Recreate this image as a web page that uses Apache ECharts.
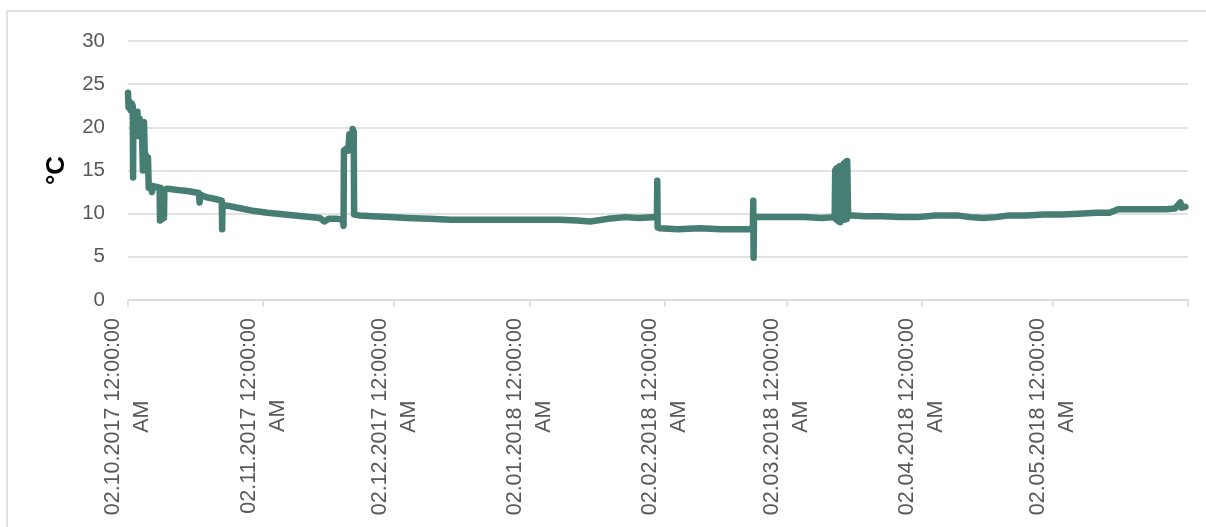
<!DOCTYPE html>
<html>
<head>
<meta charset="utf-8">
<title>Temperatur</title>
<script src="https://cdn.jsdelivr.net/npm/echarts@6/dist/echarts.min.js"></script>
<style>
  html, body { margin: 0; padding: 0; background: #ffffff; }
  #chart { width: 1206px; height: 527px; }
</style>
</head>
<body>
<div id="chart"></div>
<script>
// Logged temperature readings (local time, °C)
const times = [
  '2017-10-02 00:00','2017-10-02 03:00','2017-10-02 08:00','2017-10-02 14:00','2017-10-02 20:00',
  '2017-10-03 02:00','2017-10-03 04:00','2017-10-03 06:00','2017-10-03 14:00','2017-10-03 22:00',
  '2017-10-04 04:00','2017-10-04 10:00','2017-10-04 16:00','2017-10-04 22:00',
  '2017-10-05 04:00','2017-10-05 10:00','2017-10-05 16:00','2017-10-05 22:00',
  '2017-10-06 02:00','2017-10-06 08:00','2017-10-06 14:00','2017-10-06 18:00',
  '2017-10-07 06:00','2017-10-07 12:00','2017-10-07 18:00','2017-10-08 12:00',
  '2017-10-09 06:00','2017-10-09 08:00','2017-10-09 10:00','2017-10-09 20:00','2017-10-09 22:00',
  '2017-10-10 06:00','2017-10-10 08:00','2017-10-11 00:00','2017-10-12 12:00','2017-10-14 00:00',
  '2017-10-16 00:00','2017-10-18 06:00','2017-10-18 10:00','2017-10-18 14:00','2017-10-20 00:00',
  '2017-10-22 00:00','2017-10-23 12:00','2017-10-23 14:00','2017-10-23 16:00','2017-10-25 00:00',
  '2017-10-28 00:00','2017-10-31 00:00','2017-11-03 00:00','2017-11-07 00:00','2017-11-11 00:00',
  '2017-11-15 00:00','2017-11-16 00:00','2017-11-17 00:00','2017-11-19 00:00',
  '2017-11-20 06:00','2017-11-20 10:00','2017-11-20 12:00','2017-11-21 00:00','2017-11-21 12:00',
  '2017-11-21 18:00','2017-11-22 06:00','2017-11-22 12:00','2017-11-22 18:00','2017-11-22 20:00',
  '2017-11-24 00:00','2017-11-27 00:00','2017-12-01 00:00','2017-12-05 00:00','2017-12-10 00:00',
  '2017-12-15 00:00','2017-12-20 00:00','2017-12-25 00:00','2017-12-30 00:00','2018-01-04 00:00',
  '2018-01-09 00:00','2018-01-13 00:00','2018-01-16 00:00','2018-01-20 00:00','2018-01-24 00:00',
  '2018-01-27 00:00','2018-01-31 06:00','2018-01-31 08:00','2018-01-31 10:00','2018-02-01 00:00',
  '2018-02-05 00:00','2018-02-10 00:00','2018-02-15 00:00','2018-02-20 00:00',
  '2018-02-22 06:00','2018-02-22 08:00','2018-02-22 10:00','2018-02-22 12:00','2018-02-26 00:00',
  '2018-03-02 00:00','2018-03-06 00:00','2018-03-10 00:00',
  '2018-03-13 00:00','2018-03-13 03:00','2018-03-13 06:00','2018-03-13 09:00','2018-03-13 12:00',
  '2018-03-13 15:00','2018-03-13 18:00','2018-03-13 21:00','2018-03-14 00:00','2018-03-14 03:00',
  '2018-03-14 06:00','2018-03-14 09:00','2018-03-14 12:00','2018-03-14 15:00','2018-03-14 18:00',
  '2018-03-14 21:00','2018-03-15 00:00','2018-03-15 03:00','2018-03-15 06:00','2018-03-15 09:00',
  '2018-03-15 12:00','2018-03-15 15:00','2018-03-15 18:00','2018-03-15 21:00','2018-03-16 02:00',
  '2018-03-17 00:00','2018-03-20 00:00',
  '2018-03-24 00:00','2018-03-28 00:00','2018-04-01 00:00','2018-04-05 00:00','2018-04-10 00:00',
  '2018-04-13 00:00','2018-04-16 00:00','2018-04-19 00:00','2018-04-22 00:00','2018-04-26 00:00',
  '2018-04-30 00:00','2018-05-04 00:00','2018-05-08 00:00','2018-05-12 00:00','2018-05-15 00:00',
  '2018-05-17 00:00','2018-05-20 00:00','2018-05-24 00:00','2018-05-28 00:00','2018-05-30 00:00',
  '2018-05-31 06:00','2018-05-31 12:00','2018-06-01 10:00'
];
const temps = [
  24.0, 22.3, 23.0, 22.0, 22.8,
  22.5, 14.2, 22.0, 21.5, 19.5,
  21.8, 19.0, 21.0, 18.9,
  20.5, 15.0, 20.6, 15.2,
  16.8, 15.0, 16.5, 13.0,
  13.2, 12.5, 13.2, 13.1,
  13.0, 9.2, 13.0, 9.4, 12.8,
  9.5, 12.7, 12.9, 12.8, 12.7,
  12.6, 12.4, 11.3, 12.2, 11.9,
  11.7, 11.5, 8.2, 11.0, 10.9,
  10.6, 10.3, 10.1, 9.9, 9.7,
  9.5, 9.1, 9.4, 9.4,
  9.3, 8.6, 17.3, 17.5, 17.3,
  19.2, 18.2, 19.8, 19.5, 9.9,
  9.8, 9.7, 9.6, 9.5, 9.4,
  9.3, 9.3, 9.3, 9.3, 9.3,
  9.3, 9.2, 9.1, 9.4, 9.6,
  9.5, 9.6, 13.8, 8.4, 8.3,
  8.2, 8.3, 8.2, 8.2,
  8.2, 11.5, 4.9, 9.6, 9.6,
  9.6, 9.6, 9.5,
  9.6, 15.0, 9.4, 15.2, 9.3,
  15.3, 9.2, 14.9, 9.1, 15.5,
  9.0, 15.4, 9.2, 15.3, 9.3,
  15.6, 9.4, 15.8, 9.3, 15.7,
  9.5, 16.0, 9.4, 16.1, 9.8,
  9.8, 9.7,
  9.7, 9.6, 9.6, 9.8, 9.8,
  9.6, 9.5, 9.6, 9.8, 9.8,
  9.9, 9.9, 10.0, 10.1, 10.1,
  10.5, 10.5, 10.5, 10.5, 10.6,
  11.3, 10.7, 10.8
];
// Monthly axis marks; the last one only closes the axis
const tickDates = [
  '2017-10-02','2017-11-02','2017-12-02','2018-01-02',
  '2018-02-02','2018-03-02','2018-04-02','2018-05-02','2018-06-02'
];
const labelDates = tickDates.slice(0, 8);

function toTs(s) {
  const [d, t] = s.split(' ');
  const [y, m, day] = d.split('-').map(Number);
  let hh = 0, mm = 0;
  if (t) { [hh, mm] = t.split(':').map(Number); }
  return new Date(y, m - 1, day, hh, mm).getTime();
}
function pad(n) { return (n < 10 ? '0' : '') + n; }

const seriesData = times.map((t, i) => [toTs(t), temps[i]]);
const tickTs = tickDates.map(toTs);
const labelTs = labelDates.map(toTs);

const chart = echarts.init(document.getElementById('chart'), null, { renderer: 'canvas' });
chart.setOption({
  animation: false,
  backgroundColor: '#ffffff',
  textStyle: { fontFamily: 'Liberation Sans, Arial, sans-serif' },
  graphic: [{
    type: 'rect',
    shape: { x: 7, y: 11, width: 1260, height: 600 },
    style: { fill: 'none', stroke: '#d9d9d9', lineWidth: 1.5 },
    silent: true
  }],
  grid: { left: 128, top: 41, right: 18, bottom: 227, containLabel: false },
  xAxis: {
    // timestamps on a linear scale so the monthly marks can be placed exactly
    type: 'value',
    min: tickTs[0],
    max: tickTs[tickTs.length - 1],
    axisLine: { show: true, lineStyle: { color: '#d9d9d9', width: 1.5 } },
    axisTick: { show: true, length: 7, customValues: tickTs, lineStyle: { color: '#d9d9d9', width: 1.5 } },
    splitLine: { show: false },
    axisLabel: {
      customValues: labelTs,
      rotate: 90,
      margin: 18,
      color: '#595959',
      fontSize: 21.5,
      lineHeight: 29,
      formatter: function (v) {
        const d = new Date(v);
        const s = pad(d.getDate()) + '.' + pad(d.getMonth() + 1) + '.' + d.getFullYear() + ' 12:00:00';
        return '{a|' + s + '}\n{a|AM}';
      },
      rich: { a: { align: 'center', fontSize: 21.5, lineHeight: 29, color: '#595959' } }
    }
  },
  yAxis: {
    type: 'value',
    min: 0,
    max: 30,
    interval: 5,
    name: '°C',
    nameLocation: 'middle',
    nameRotate: 90,
    nameGap: 58,
    nameTextStyle: { fontSize: 26, fontWeight: 'bold', color: '#000000' },
    axisLine: { show: false },
    axisTick: { show: false },
    axisLabel: { color: '#595959', fontSize: 20.5, margin: 23 },
    splitLine: { lineStyle: { color: '#d9d9d9', width: 1.5 } }
  },
  series: [{
    type: 'line',
    data: seriesData,
    showSymbol: false,
    symbol: 'none',
    lineStyle: { color: '#467e74', width: 6.5, cap: 'round', join: 'round' },
    itemStyle: { color: '#467e74' }
  }]
});
</script>
</body>
</html>
